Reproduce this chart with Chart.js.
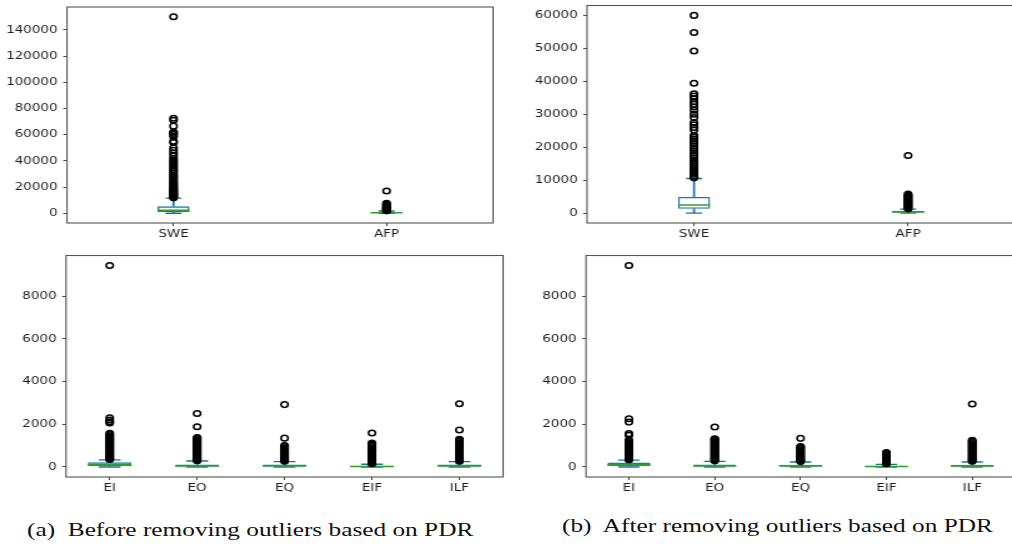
<!DOCTYPE html>
<html>
<head>
<meta charset="utf-8">
<script src="https://cdn.jsdelivr.net/npm/chart.js@4.4.0/dist/chart.umd.min.js"></script>
<style>
  html, body { margin: 0; padding: 0; background: #fff; overflow: hidden; }
  body { width: 1012px; height: 545px; position: relative; }
  .panel { position: absolute; transform-origin: 0 0; transform: scaleX(1.25); }
  .panel canvas { display: block; }
  .caption {
    position: absolute; white-space: pre; color: #111;
    font-family: 'Liberation Serif', 'Times New Roman', serif; font-size: 18.5px; line-height: 1;
    transform-origin: 0 50%;
  }
</style>
</head>
<body>
<div class="panel" style="left:0;top:0"><canvas id="beforeTop" width="400" height="245"></canvas></div>
<div class="panel" style="left:512px;top:0"><canvas id="afterTop" width="408" height="245"></canvas></div>
<div class="panel" style="left:0;top:250px"><canvas id="beforeBottom" width="408" height="250"></canvas></div>
<div class="panel" style="left:512px;top:250px"><canvas id="afterBottom" width="408" height="250"></canvas></div>
<div class="caption" style="left:27px;top:521px" data-w="446">(a)  Before removing outliers based on PDR</div>
<div class="caption" style="left:562px;top:517px" data-w="431">(b)  After removing outliers based on PDR</div>

<script>
const catsTop = ['SWE', 'AFP'];
const catsBottom = ['EI', 'EO', 'EQ', 'EIF', 'ILF'];

const ticksTopBefore = [0, 20000, 40000, 60000, 80000, 100000, 120000, 140000];
const ticksTopAfter = [0, 10000, 20000, 30000, 40000, 50000, 60000];
const ticksBottom = [0, 2000, 4000, 6000, 8000];

// (a) before, top row
const beforeTopLow = [0, 0];
const beforeTopQ1 = [900, 150];
const beforeTopMed = [2300, 350];
const beforeTopQ3 = [5300, 800];
const beforeTopHigh = [11500, 1700];
const beforeSweOut = [150000, 72500, 71000, 66500, 62000, 61000, 60000, 58500, 55000, 54000, 50000, 48000,
  46000, 44000, 42000, 40500, 39000, 37500, 36000, 34500, 33000, 32000, 30500, 29000, 28000, 26500, 25500,
  24000, 23000, 22000, 21000, 20000, 19000, 18200, 17500, 16800, 16000, 15300, 14600, 14000, 13400, 12800,
  12200, 11700];
const beforeAfpOut = [17000, 7600, 7000, 6400, 5800, 5200, 4700, 4200, 3700, 3200, 2800, 2400, 2000, 1800];

// (b) after, top row
const afterTopLow = [0, 0];
const afterTopQ1 = [1300, 150];
const afterTopMed = [2500, 350];
const afterTopQ3 = [4900, 700];
const afterTopHigh = [10500, 1200];
const afterSweOut = [60000, 54800, 49200, 39400, 36200, 35500, 34800, 33800, 33000, 32200, 31200, 30000,
  29000, 27500, 26800, 26000, 25200, 23500, 23000, 22400, 21800, 21000, 20300, 19600, 18900, 18200, 17500,
  16800, 16000, 15400, 14800, 14200, 13600, 13000, 12400, 11800, 11200, 10700];
const afterAfpOut = [17500, 5800, 5500, 5200, 4900, 4600, 4300, 4000, 3700, 3400, 3100, 2800, 2500, 2200,
  1900, 1600, 1300];

// (a) before, bottom row
const beforeBottomLow = [0, 0, 0, 0, 0];
const beforeBottomQ1 = [40, 20, 20, 10, 20];
const beforeBottomMed = [100, 50, 50, 25, 50];
const beforeBottomQ3 = [220, 120, 110, 60, 110];
const beforeBottomHigh = [330, 280, 250, 130, 250];
const beforeEiOut = [9430, 2300, 2200, 2120, 2060, 1580, 1520, 1460, 1400, 1340, 1280, 1220, 1160, 1100,
  1040, 980, 920, 860, 800, 740, 680, 620, 560, 500, 450, 400, 350];
const beforeEoOut = [2500, 1880, 1380, 1330, 1270, 1210, 1150, 1090, 1030, 970, 910, 850, 790, 730, 670,
  610, 550, 490, 430, 380, 330, 290];
const beforeEqOut = [2920, 1350, 1000, 950, 890, 830, 770, 710, 650, 590, 530, 470, 410, 360, 310, 270];
const beforeEifOut = [1590, 1120, 1070, 1010, 950, 890, 830, 770, 710, 650, 590, 530, 470, 410, 350, 290,
  240, 190, 150];
const beforeIlfOut = [2960, 1730, 1300, 1250, 1190, 1130, 1070, 1010, 950, 890, 830, 770, 710, 650, 590,
  530, 470, 410, 360, 310, 270];

// (b) after, bottom row
const afterBottomLow = [0, 0, 0, 0, 0];
const afterBottomQ1 = [40, 20, 20, 10, 20];
const afterBottomMed = [100, 50, 50, 25, 50];
const afterBottomQ3 = [210, 110, 100, 55, 100];
const afterBottomHigh = [320, 260, 230, 120, 230];
const afterEiOut = [9430, 2260, 2100, 1560, 1480, 1250, 1190, 1130, 1070, 1010, 950, 890, 830, 770, 710,
  650, 590, 530, 470, 420, 370, 340];
const afterEoOut = [1870, 1320, 1280, 1220, 1160, 1100, 1040, 980, 920, 860, 800, 740, 680, 620, 560, 500,
  440, 390, 340, 290];
const afterEqOut = [1340, 960, 920, 860, 800, 740, 680, 620, 560, 500, 440, 390, 340, 290, 250];
const afterEifOut = [680, 640, 590, 540, 490, 440, 390, 340, 290, 240, 190, 150];
const afterIlfOut = [2950, 1250, 1200, 1140, 1080, 1020, 960, 900, 840, 780, 720, 660, 600, 540, 480, 420,
  370, 320, 270];

const frame = {
  id: 'frame',
  afterDraw(chart) {
    const { ctx, chartArea: a } = chart;
    ctx.save();
    ctx.strokeStyle = '#555';
    ctx.lineWidth = 1.1;
    ctx.strokeRect(a.left, a.top, a.right - a.left, a.bottom - a.top);
    ctx.restore();
  }
};

const tickFont = { family: 'DejaVu Sans', size: 10.8 };

function boxPanel(id, cats, low, q1, med, q3, high, outliers, yMin, yMax, yTicks, boxFrac, lay) {
  const halfBox = chart => chart.scales.x.width / cats.length * boxFrac / 2;
  const fliers = outliers.flatMap((vals, i) => vals.map(v => ({ x: cats[i], y: v })));
  const caps = cats.flatMap((c, i) => [{ x: c, y: low[i] }, { x: c, y: high[i] }]);

  new Chart(document.getElementById(id), {
    type: 'bar',
    data: {
      labels: cats,
      datasets: [
        {
          type: 'line', data: fliers, showLine: false,
          pointStyle: 'circle', pointRadius: 2.8, pointBorderWidth: 1.5,
          pointBorderColor: '#000', pointBackgroundColor: 'rgba(0,0,0,0)'
        },
        {
          type: 'line', data: cats.map((c, i) => ({ x: c, y: med[i] })), showLine: false,
          pointStyle: 'line', pointRadius: ctx => halfBox(ctx.chart),
          pointBorderColor: '#2ca02c', pointBorderWidth: 1.5
        },
        {
          type: 'line', data: caps, showLine: false,
          pointStyle: 'line', pointRadius: ctx => halfBox(ctx.chart) / 2,
          pointBorderColor: '#1f6f9f', pointBorderWidth: 1.4
        },
        {
          data: cats.map((c, i) => [q1[i], q3[i]]), grouped: false,
          barPercentage: boxFrac, categoryPercentage: 1,
          backgroundColor: 'rgba(0,0,0,0)', borderColor: '#1f77b4', borderWidth: 1.4, borderSkipped: false
        },
        {
          data: cats.map((c, i) => [low[i], q1[i]]), grouped: false,
          barThickness: 1.1, backgroundColor: '#1f77b4', borderWidth: 0
        },
        {
          data: cats.map((c, i) => [q3[i], high[i]]), grouped: false,
          barThickness: 1.1, backgroundColor: '#1f77b4', borderWidth: 0
        }
      ]
    },
    options: {
      responsive: false,
      devicePixelRatio: 1,
      animation: false,
      events: [],
      layout: { padding: { top: lay.top, right: lay.right, left: 0, bottom: 0 } },
      plugins: { legend: { display: false }, tooltip: { enabled: false } },
      scales: {
        x: {
          type: 'category', offset: true,
          grid: { offset: false, drawOnChartArea: false, drawTicks: true, tickLength: 3, color: '#444' },
          border: { display: false },
          ticks: { color: '#1e1e1e', padding: 2, font: tickFont, maxRotation: 0, autoSkip: false },
          afterFit: s => { s.height = lay.xHeight; s.paddingLeft = 0; s.paddingRight = 0; }
        },
        y: {
          min: yMin, max: yMax,
          grid: { drawOnChartArea: false, drawTicks: true, tickLength: 3, color: '#444' },
          border: { display: false },
          ticks: { color: '#1e1e1e', padding: 4.5, font: tickFont, callback: v => String(v) },
          afterBuildTicks: s => { s.ticks = yTicks.map(v => ({ value: v })); },
          afterFit: s => { s.width = lay.yWidth; s.paddingTop = 0; s.paddingBottom = 0; }
        }
      }
    },
    plugins: [frame]
  });
}

boxPanel('beforeTop', catsTop, beforeTopLow, beforeTopQ1, beforeTopMed, beforeTopQ3, beforeTopHigh,
  [beforeSweOut, beforeAfpOut], -7500, 157500, ticksTopBefore, 0.15,
  { top: 7, right: 3.2, yWidth: 53.6, xHeight: 22 });

boxPanel('afterTop', catsTop, afterTopLow, afterTopQ1, afterTopMed, afterTopQ3, afterTopHigh,
  [afterSweOut, afterAfpOut], -3000, 63000, ticksTopAfter, 0.15,
  { top: 5, right: 0.8, yWidth: 60, xHeight: 22 });

boxPanel('beforeBottom', catsBottom, beforeBottomLow, beforeBottomQ1, beforeBottomMed, beforeBottomQ3,
  beforeBottomHigh, [beforeEiOut, beforeEoOut, beforeEqOut, beforeEifOut, beforeIlfOut],
  -470, 9900, ticksBottom, 0.5,
  { top: 5, right: 4, yWidth: 52.8, xHeight: 23 });

boxPanel('afterBottom', catsBottom, afterBottomLow, afterBottomQ1, afterBottomMed, afterBottomQ3,
  afterBottomHigh, [afterEiOut, afterEoOut, afterEqOut, afterEifOut, afterIlfOut],
  -470, 9900, ticksBottom, 0.5,
  { top: 4, right: 4, yWidth: 59.2, xHeight: 23 });

document.querySelectorAll('.caption').forEach(el => {
  el.style.transform = 'scaleX(' + (Number(el.dataset.w) / el.offsetWidth) + ')';
});
</script>
</body>
</html>
